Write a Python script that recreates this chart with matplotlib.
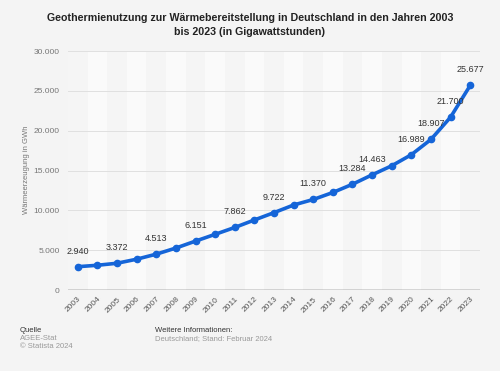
#!/usr/bin/env python3

import numpy as np
import matplotlib.pyplot as plt

plt.rc('font', family='Liberation Sans')

years = [str(y) for y in range(2003, 2024)]
values = [2940, 3120, 3372, 3880, 4513, 5280, 6151, 7000, 7862, 8800, 9722,
          10680, 11370, 12250, 13284, 14463, 15600, 16989, 18907, 21700, 25677]
labeled = ['2003', '2005', '2007', '2009', '2011', '2013', '2015', '2017',
           '2018', '2020', '2021', '2022', '2023']
yticks = [0, 5000, 10000, 15000, 20000, 25000, 30000]

bg = '#f4f4f4'
blue = '#1565d8'

fig = plt.figure(figsize=(5, 3.71), dpi=100, facecolor=bg)
ax = fig.add_axes([0.136, 0.218, 0.824, 0.6445], facecolor='#f5f5f5')

idx = np.arange(len(years))
# alternating column bands
for i in idx:
    if i % 2 == 1:
        ax.axvspan(i - 0.5, i + 0.5, color='#fafafa', zorder=0, lw=0)

for t in yticks[1:]:
    ax.axhline(t, color='#e0e0e0', lw=0.7, zorder=1)
ax.axhline(0, color='#444444', lw=1.0, zorder=2)

ax.plot(idx, values, color=blue, lw=2.6, marker='o', markersize=4.5,
        solid_capstyle='round', zorder=3)

for i, v in enumerate(values):
    if years[i] in labeled:
        ax.annotate(f"{v:,}".replace(',', '.'), (i, v), xytext=(0, 8),
                    textcoords='offset points', ha='center', va='bottom',
                    fontsize=6.5, color='#333333', zorder=4)

ax.set_xlim(-0.5, len(years) - 0.5)
ax.set_ylim(0, 30000)
ax.set_xticks(idx)
ax.set_xticklabels(years, rotation=45, ha='right', rotation_mode='anchor',
                   fontsize=6, color='#555555')
ax.set_yticks(yticks)
ax.set_yticklabels([f"{t:,}".replace(',', '.') for t in yticks],
                   fontsize=6, color='#777777')
ax.tick_params(length=0, pad=6)
ax.tick_params(axis='x', pad=4)
for s in ax.spines.values():
    s.set_visible(False)

fig.text(27 / 500, 1 - 170 / 371, 'Wärmeerzeugung in GWh', rotation=90,
         ha='center', va='center', fontsize=5.5, color='#777777')

fig.text(0.5, 1 - 25 / 371,
         'Geothermienutzung zur Wärmebereitstellung in Deutschland in den Jahren 2003\n'
         'bis 2023 (in Gigawattstunden)',
         ha='center', va='center', fontsize=7.7, fontweight='bold',
         color='#222222', linespacing=1.6)

fig.text(20 / 500, 1 - 331 / 371, 'Quelle', fontsize=5.5, color='#333333', va='center')
fig.text(20 / 500, 1 - 339 / 371, 'AGEE-Stat', fontsize=5.5, color='#999999', va='center')
fig.text(20 / 500, 1 - 347 / 371, '© Statista 2024', fontsize=5.5, color='#999999', va='center')
fig.text(155 / 500, 1 - 331 / 371, 'Weitere Informationen:', fontsize=5.5,
         color='#333333', va='center')
fig.text(155 / 500, 1 - 339 / 371, 'Deutschland; Stand: Februar 2024', fontsize=5.5,
         color='#999999', va='center')

fig.savefig('out.png', dpi=100, facecolor=bg)
